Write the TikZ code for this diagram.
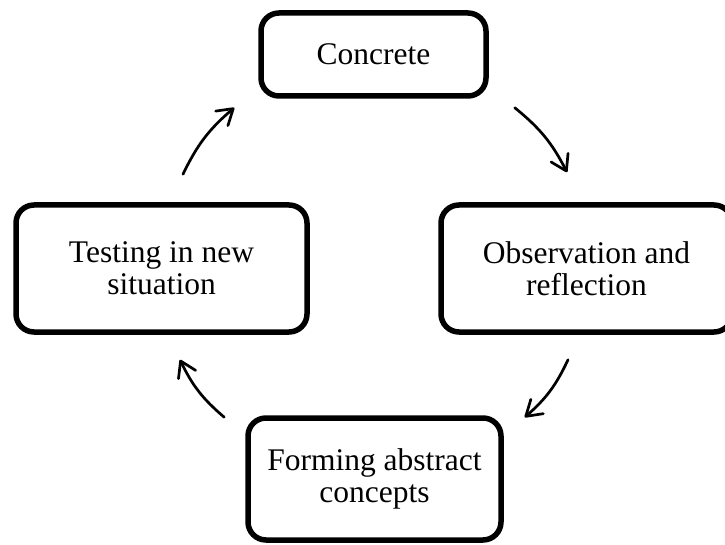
\documentclass[tikz,border=0pt]{standalone}
\usepackage{fontspec}
\setmainfont{Liberation Serif}
\usetikzlibrary{arrows.meta}

\begin{document}
\begin{tikzpicture}[x=1pt,y=1pt,
  stage/.style={draw,line width=5.5pt,rounded corners=18pt,inner sep=0pt,align=center,
    font=\fontsize{31.5}{32}\selectfont},
  turn/.style={line width=2.7pt,line cap=round,
    -{Straight Barb[length=15pt,width=19pt,line cap=round,line join=round]}}]
  \clip (0,0) rectangle (725,544);
  \node[stage,minimum width=225pt,minimum height=83pt] (conc) at (373.5,489.5) {Concrete};
  \node[stage,minimum width=291pt,minimum height=127pt] (obs) at (586.5,275.5) {Observation and\\reflection};
  \node[stage,minimum width=253pt,minimum height=122pt] (form) at (374.5,65) {Forming abstract\\concepts};
  \node[stage,minimum width=291pt,minimum height=127pt] (test) at (161.5,275.5) {Testing in new\\situation};

  \coordinate (t-out) at ([xshift=21.5pt,yshift=28pt]test.north);
  \coordinate (c-in)  at ([xshift=-24pt,yshift=-9pt]conc.south west);
  \coordinate (c-out) at ([xshift=26pt,yshift=-9pt]conc.south east);
  \coordinate (o-in)  at ([xshift=-19.5pt,yshift=30pt]obs.north);
  \coordinate (o-out) at ([xshift=-18.5pt,yshift=-25pt]obs.south);
  \coordinate (f-in)  at ([xshift=21pt,yshift=-2pt]form.north east);
  \coordinate (f-out) at ([xshift=-21pt,yshift=-2pt]form.north west);
  \coordinate (t-in)  at ([xshift=18.5pt,yshift=-25pt]test.south);

  \draw[turn] (t-out) to[bend left=12] (c-in);
  \draw[turn] (c-out) to[bend left=12] (o-in);
  \draw[turn] (o-out) to[bend left=12] (f-in);
  \draw[turn] (f-out) to[bend left=12] (t-in);
\end{tikzpicture}
\end{document}
